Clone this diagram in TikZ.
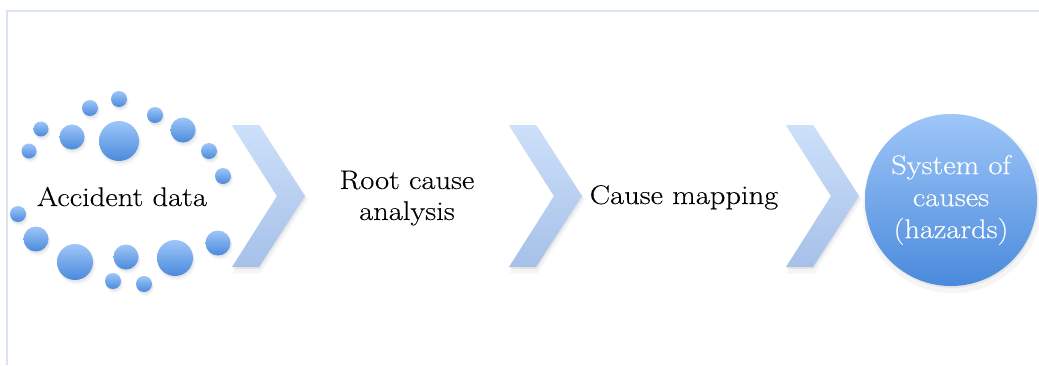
\documentclass[tikz,border=0pt]{standalone}
\usepackage{fontspec}
\setmainfont{Latin Modern Roman}[FakeStretch=1.13,FakeBold=0.25]
\usetikzlibrary{shadows}
\definecolor{frameline}{RGB}{218,228,240}
\definecolor{dotTop}{RGB}{158,198,248}
\definecolor{dotBot}{RGB}{74,138,220}
\definecolor{chevTop}{RGB}{204,224,250}
\definecolor{chevBot}{RGB}{166,192,232}
\tikzset{
  softshadow/.style={
    drop shadow={opacity=0.08, shadow xshift=1.5pt, shadow yshift=-3.5pt, shadow scale=1.04},
    drop shadow={opacity=0.12, shadow xshift=1pt, shadow yshift=-2pt}},
  dot/.style={circle, inner sep=0pt, minimum size=#1, top color=dotTop, bottom color=dotBot, draw=none, softshadow},
  lbl/.style={font=\fontsize{27}{31}\selectfont, align=center, text=black, inner sep=0pt},
  chevshape/.style={top color=chevTop, bottom color=chevBot, draw=none, softshadow},
  goal/.style={circle, inner sep=0pt, minimum size=172pt, top color=dotTop, bottom color=dotBot, draw=none,
    text=white, align=center, font=\fontsize{27}{32}\selectfont, softshadow},
  pics/chev/.style={code={
    \path[chevshape] (0,125) -- (27,125) -- (73,196) -- (27,267) -- (0,267) -- (45,196) -- cycle;
  }}
}
\begin{document}
\begin{tikzpicture}[x=1pt,y=-1pt]
\useasboundingbox (0,0) rectangle (1039,365);
\fill[white] (0,0) rectangle (1039,365);
\draw[frameline, line width=2pt] (7,365) -- (7,11) -- (1039,11);
% dots around "Accident data"
\node[dot=16] (d1) at (119,99) {};
\node[dot=16] (d2) at (90,108) {};
\node[dot=16] (d3) at (155,115) {};
\node[dot=15] (d4) at (41,129) {};
\node[dot=25] (d5) at (72,137) {};
\node[dot=40] (d6) at (119,141) {};
\node[dot=25] (d7) at (183,130) {};
\node[dot=15] (d8) at (29,151) {};
\node[dot=16] (d9) at (209,151) {};
\node[dot=16] (d10) at (223,176) {};
\node[dot=16] (d11) at (18,214) {};
\node[dot=25] (d12) at (36,239) {};
\node[dot=36] (d13) at (75,262) {};
\node[dot=25] (d14) at (126,257) {};
\node[dot=36] (d15) at (175,258) {};
\node[dot=25] (d16) at (218,243) {};
\node[dot=16] (d17) at (113,281) {};
\node[dot=16] (d18) at (144,284) {};
% chevrons
\pic (c1) at (232,0) {chev};
\pic (c2) at (509,0) {chev};
\pic (c3) at (786,0) {chev};
% labels
\node[lbl, anchor=base] (acc) at (122,206) {Accident data};
\node[lbl] (rca) at (407,198) {Root cause\\analysis};
\node[lbl, anchor=base] (map) at (684,204) {Cause mapping};
\node[goal] (sys) at (951,200) {System of\\causes\\(hazards)};
\end{tikzpicture}
\end{document}
